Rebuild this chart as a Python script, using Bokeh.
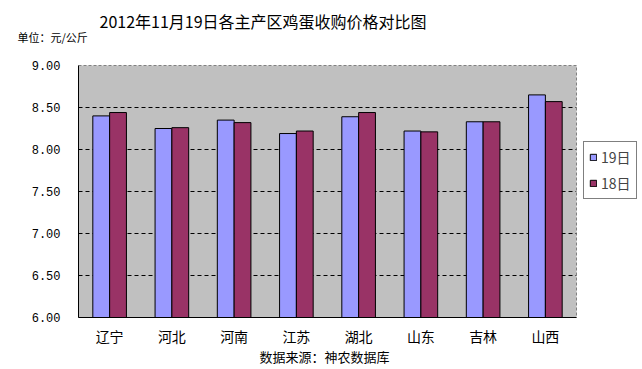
from bokeh.plotting import figure
from bokeh.models import (Title, Legend, LegendItem, FactorRange, Range1d,
                          NumeralTickFormatter, FixedTicker, ColumnDataSource)
from bokeh.transform import dodge
from bokeh.embed import file_html
from bokeh.resources import INLINE

# ---- data ----
regions = ["辽宁", "河北", "河南", "江苏", "湖北", "山东", "吉林", "山西"]
price_19 = [8.40, 8.25, 8.35, 8.19, 8.39, 8.22, 8.33, 8.65]
price_18 = [8.44, 8.26, 8.32, 8.22, 8.44, 8.21, 8.33, 8.57]
series_names = ["19日", "18日"]
y_ticks = [6.0, 6.5, 7.0, 7.5, 8.0, 8.5, 9.0]
title_text = "2012年11月19日各主产区鸡蛋收购价格对比图"
unit_text = "单位：元/公斤"
source_text = "数据来源：神农数据库"

CJK = "Noto Sans CJK SC"

src = ColumnDataSource(dict(region=regions, p19=price_19, p18=price_18))

p = figure(frame_width=498, frame_height=252, output_backend="svg", toolbar_location=None,
           x_range=FactorRange(factors=regions), y_range=Range1d(6.0, 9.0),
           min_border_left=78, min_border_right=64, min_border_top=65,
           min_border_bottom=50)
p.title = None

p.background_fill_color = "#C0C0C0"
p.border_fill_color = "white"
p.outline_line_color = "#808080"
p.outline_line_dash = "3 2"

r19 = p.vbar(x=dodge("region", -0.135, range=p.x_range), top="p19", width=0.27,
             source=src, fill_color="#9999FF", line_color="#000000", line_width=1)
r18 = p.vbar(x=dodge("region", 0.135, range=p.x_range), top="p18", width=0.27,
             source=src, fill_color="#993366", line_color="#000000", line_width=1)

# grid
p.xgrid.grid_line_color = None
p.ygrid.grid_line_color = "black"
p.ygrid.grid_line_dash = "4 3"
p.ygrid.grid_line_width = 1

# y axis
p.yaxis.ticker = FixedTicker(ticks=y_ticks)
p.yaxis.formatter = NumeralTickFormatter(format="0.00")
p.yaxis.major_tick_in = 0
p.yaxis.major_tick_out = 0
p.yaxis.minor_tick_line_color = None
p.yaxis.axis_line_color = "black"
p.yaxis.major_label_standoff = 18
p.yaxis.major_label_text_font = "Liberation Mono"
p.yaxis.major_label_text_font_size = "12px"
p.yaxis.major_label_text_color = "black"

# x axis
p.xaxis.major_tick_in = 0
p.xaxis.major_tick_out = 0
p.xaxis.axis_line_color = "black"
p.xaxis.major_label_standoff = 8
p.xaxis.major_label_text_font = CJK
p.xaxis.major_label_text_font_size = "14px"
p.xaxis.major_label_text_color = "black"

# legend (right panel)
legend = Legend(items=[LegendItem(label=series_names[0], renderers=[r19]),
                       LegendItem(label=series_names[1], renderers=[r18])],
                location=(7, 118), border_line_color="black", border_line_width=1,
                background_fill_color="white", background_fill_alpha=1.0,
                label_text_font=CJK, label_text_font_size="14px",
                glyph_width=8, glyph_height=8, label_standoff=4,
                padding=5, spacing=6, margin=0, label_height=14)
p.add_layout(legend, "right")

# titles above (first added is closest to the frame)
p.add_layout(Title(text=unit_text, align="left", offset=-61, standoff=42,
                   text_font=CJK, text_font_size="11px", text_font_style="normal",
                   text_color="black"), "above")
p.add_layout(Title(text=title_text, align="left", offset=21, standoff=-54,
                   text_font=CJK, text_font_size="16px", text_font_style="normal",
                   text_color="black"), "above")
# source below
p.add_layout(Title(text=source_text, align="left", offset=181, standoff=-8,
                   text_font=CJK, text_font_size="13px", text_font_style="normal",
                   text_color="black"), "below")

open("out.html", "w").write(file_html(p, INLINE))
